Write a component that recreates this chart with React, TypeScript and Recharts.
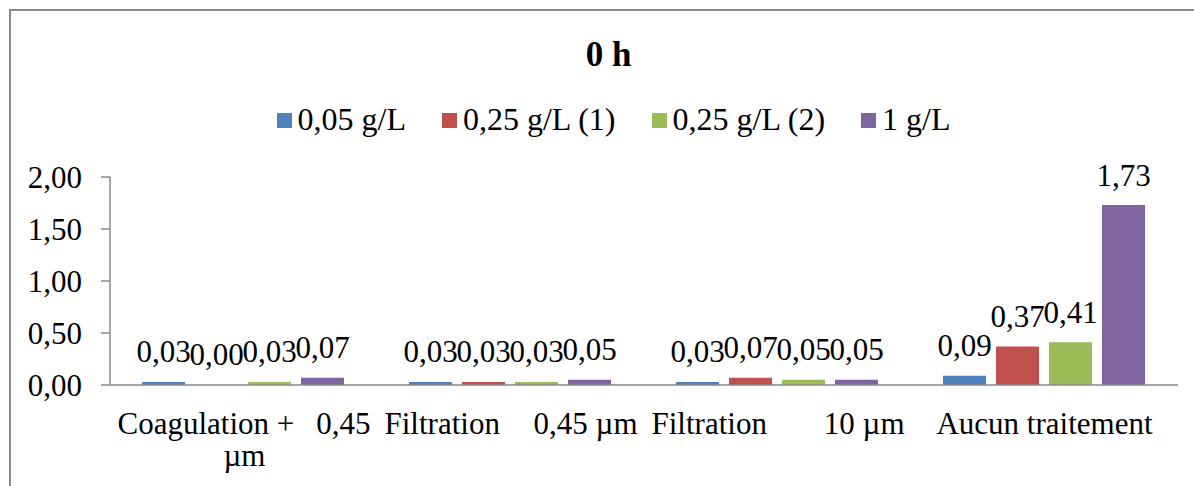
import React from "react";
import { BarChart, Bar, XAxis, YAxis, Legend, LabelList } from "recharts";

const categories = [
  "Coagulation + 0,45 µm",
  "Filtration 0,45 µm",
  "Filtration 10 µm",
  "Aucun traitement",
];
const tickLines: { left?: string; right?: string; center?: string; second?: string }[] = [
  { left: "Coagulation +", right: "0,45", second: "µm" },
  { left: "Filtration", right: "0,45 µm" },
  { left: "Filtration", right: "10 µm" },
  { center: "Aucun traitement" },
];
const seriesNames = ["0,05 g/L", "0,25 g/L (1)", "0,25 g/L (2)", "1 g/L"];
const s005 = [0.03, 0.03, 0.03, 0.09];
const s025a = [0.0, 0.03, 0.07, 0.37];
const s025b = [0.03, 0.03, 0.05, 0.41];
const s1 = [0.07, 0.05, 0.05, 1.73];
const yTicks = [0, 0.5, 1, 1.5, 2];
const title = "0 h";

const colors = ["#4F81BD", "#C0504D", "#9BBB59", "#8064A2"];
const FONT = "Liberation Serif";

const data = categories.map((c, i) => ({
  cat: c,
  a: s005[i],
  b: s025a[i],
  c: s025b[i],
  d: s1[i],
}));
const keys = ["a", "b", "c", "d"];

const fmt = (v: any) => Number(v).toFixed(2).replace(".", ",");

const XTick = (props: any) => {
  const { x, y, index } = props;
  const t = tickLines[index] || {};
  const base = y + 49;
  return (
    <g>
      <text y={base} fontFamily={FONT} fontSize={31} fill="#000">
        {t.center !== undefined && (
          <tspan x={x} textAnchor="middle">{t.center}</tspan>
        )}
        {t.left !== undefined && (
          <tspan x={x - 126} textAnchor="start">{t.left}</tspan>
        )}
        {t.right !== undefined && (
          <tspan x={x + 127} textAnchor="end">{t.right}</tspan>
        )}
      </text>
      {t.second !== undefined && (
        <text x={x + 1} y={base + 32} textAnchor="middle" fontFamily={FONT} fontSize={31} fill="#000">
          {t.second}
        </text>
      )}
    </g>
  );
};

const BarLabel = (props: any) => {
  const { x, y, width, height, value } = props;
  if (x == null || y == null) return null;
  const top = Number(y) + (Number(height) < 0 ? Number(height) : 0);
  return (
    <text
      x={Number(x) + Number(width) / 2}
      y={top - 19.5}
      textAnchor="middle"
      fontFamily={FONT}
      fontSize={31}
      fill="#000"
    >
      {fmt(value)}
    </text>
  );
};

const LegendContent = (props: any) => {
  const payload = props.payload || [];
  return (
    <div
      style={{
        display: "flex",
        justifyContent: "center",
        alignItems: "center",
        fontFamily: FONT,
        fontSize: 32,
        lineHeight: "32px",
        color: "#000",
      }}
    >
      {payload.map((p: any, i: number) => (
        <div key={i} style={{ display: "flex", alignItems: "center", marginLeft: i === 0 ? 0 : 36 }}>
          <span
            style={{
              display: "inline-block",
              width: 15,
              height: 15,
              background: p.color,
              marginRight: 6,
              marginTop: 3,
            }}
          />
          <span style={{ whiteSpace: "pre" }}>{p.value}</span>
        </div>
      ))}
    </div>
  );
};

const minSize = (v: any) => (Number(v) === 0 ? 0.01 : 0);

export default function App() {
  return (
    <div
      style={{
        position: "fixed",
        left: 0,
        top: 0,
        width: 1194,
        height: 486,
        overflow: "hidden",
        background: "#fff",
      }}
    >
      <div
        style={{
          position: "absolute",
          left: 9,
          top: 9,
          width: 1300,
          height: 600,
          borderLeft: "2px solid #8a8a8a",
          borderTop: "2px solid #8a8a8a",
        }}
      />
      <div
        style={{
          position: "absolute",
          left: 0,
          top: 37,
          width: 1217,
          textAlign: "center",
          fontFamily: FONT,
          fontWeight: "bold",
          fontSize: 35,
          lineHeight: "35px",
          color: "#000",
        }}
      >
        {title}
      </div>
      <div style={{ position: "absolute", left: 0, top: 0 }}>
        <BarChart
          width={1194}
          height={486}
          data={data}
          margin={{ top: 177, right: 16, left: 0, bottom: 0 }}
          barCategoryGap={32}
          barGap={10}
        >
          <XAxis
            dataKey="cat"
            height={101}
            interval={0}
            tickLine={false}
            tickSize={0}
            tickMargin={0}
            axisLine={{ stroke: "#8a8a8a", strokeWidth: 1.5 }}
            tick={<XTick />}
          />
          <YAxis
            width={110}
            domain={[0, 2]}
            ticks={yTicks}
            interval={0}
            tickSize={9}
            tickMargin={19}
            tickFormatter={fmt}
            axisLine={{ stroke: "#8a8a8a", strokeWidth: 1.5 }}
            tickLine={{ stroke: "#8a8a8a", strokeWidth: 1.5 }}
            tick={{ fill: "#000", fontSize: 31, fontFamily: FONT }}
          />
          <Legend
            verticalAlign="middle"
            align="center"
            layout="horizontal"
            wrapperStyle={{ top: 103, left: 0, width: 1227 }}
            content={<LegendContent />}
          />
          {keys.map((k, i) => (
            <Bar
              key={k}
              dataKey={k}
              name={seriesNames[i]}
              fill={colors[i]}
              minPointSize={minSize}
              isAnimationActive={false}
            >
              <LabelList dataKey={k} content={<BarLabel />} />
            </Bar>
          ))}
        </BarChart>
      </div>
    </div>
  );
}
